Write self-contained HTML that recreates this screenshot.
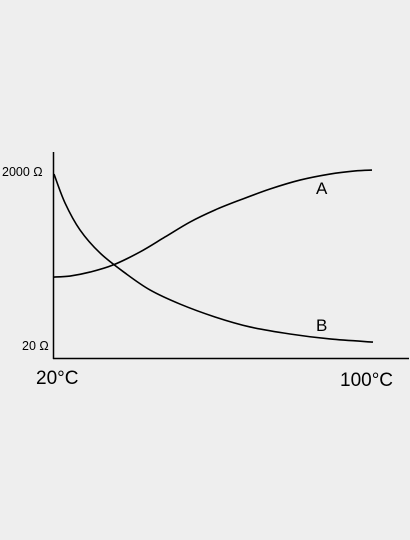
<!DOCTYPE html>
<html><head><meta charset="utf-8"><style>
html,body{margin:0;padding:0;background:#eeeeee;}
svg{display:block;}
text{font-family:"Liberation Sans",Arial,sans-serif;fill:#000;}
</style></head><body>
<svg id="chart" width="410" height="540" viewBox="0 0 410 540">
<rect x="0" y="0" width="410" height="540" fill="#eeeeee"/>
<line x1="53.5" y1="152" x2="53.5" y2="359" stroke="#000" stroke-width="1.5"/>
<line x1="53" y1="358.5" x2="409" y2="358.5" stroke="#000" stroke-width="1.5"/>
<text x="2" y="176" font-size="12.5">2000 Ω</text>
<text x="22" y="350" font-size="12.5">20 Ω</text>
<text x="36" y="384" font-size="19">20°C</text>
<text x="340" y="386" font-size="19">100°C</text>
<text x="316" y="194" font-size="17">A</text>
<text x="316" y="331" font-size="17">B</text>
</svg>
<script>
const tempsA = [20,24.25,29.25,35,41.75,48,54.25,60.5,66.75,74.25,81.75,89.25,95.5,99.75];
const valuesA = [39.5,40.1,42.4,46.5,54.1,62.8,71.5,78.5,84.3,90.7,95.9,99.4,101.2,101.7];
const tempsB = [20.25,23,26.75,31.75,38,44.25,51.75,60.5,69.25,79.25,89.25,100];
const valuesB = [99.4,82.6,66.9,53.5,41.9,32,23.8,16.3,10.5,6.4,3.5,1.7];

function xScale(t){ return 53 + (t-20)/80*320; }
function yScale(v){ return 345 - v/100*172; }

function smoothPath(xs, ys){
  const p = xs.map((t,i)=>[xScale(t), yScale(ys[i])]);
  let d = 'M' + p[0][0] + ',' + p[0][1];
  for(let i=0;i<p.length-1;i++){
    const p0=p[Math.max(0,i-1)], p1=p[i], p2=p[i+1], p3=p[Math.min(p.length-1,i+2)];
    const c1x=p1[0]+(p2[0]-p0[0])/6, c1y=p1[1]+(p2[1]-p0[1])/6;
    const c2x=p2[0]-(p3[0]-p1[0])/6, c2y=p2[1]-(p3[1]-p1[1])/6;
    d += ' C'+c1x+','+c1y+' '+c2x+','+c2y+' '+p2[0]+','+p2[1];
  }
  return d;
}
const svg = document.getElementById('chart');
const ns = 'http://www.w3.org/2000/svg';
const a = document.createElementNS(ns,'path');
a.setAttribute('d', smoothPath(tempsA, valuesA));
a.setAttribute('fill','none'); a.setAttribute('stroke','#000'); a.setAttribute('stroke-width','1.6');


svg.appendChild(a);
const b = document.createElementNS(ns,'path');
b.setAttribute('d', smoothPath(tempsB, valuesB));
b.setAttribute('fill','none'); b.setAttribute('stroke','#000'); b.setAttribute('stroke-width','1.6');


svg.appendChild(b);
</script>
</body></html>
